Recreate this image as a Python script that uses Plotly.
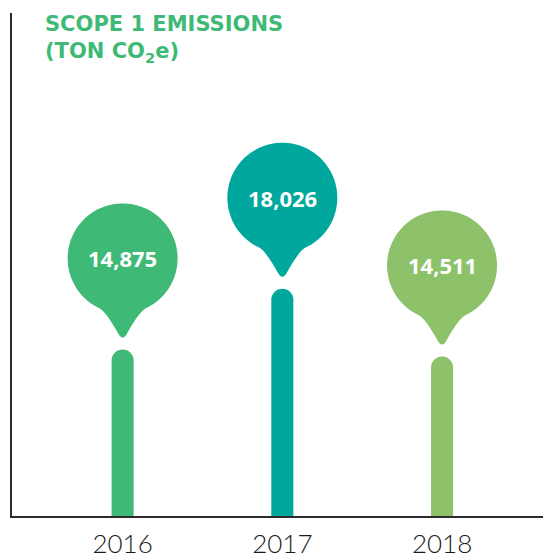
import numpy as np
import plotly.graph_objects as go

# Scope 1 emissions per year (ton CO2e)
years = [2016, 2017, 2018]
year_labels = ["2016", "2017", "2018"]
emissions = [14875, 18026, 14511]
colors = ["#3EBA76", "#00A79D", "#8DC26B"]

# Geometry of the value pin (pixels, relative to the top of each bar, y up)
PIN_R = 55
PIN_CY = 91


def pin_path(r=PIN_R, cy=PIN_CY):
    a = np.radians(np.linspace(-65, 245, 90))
    xs = r * np.cos(a)
    ys = cy + r * np.sin(a)
    parts = [f"M{xs[0]:.2f},{ys[0]:.2f}"]
    parts += [f"L{x:.2f},{y:.2f}" for x, y in zip(xs[1:], ys[1:])]
    # tapered tail down to a rounded tip
    parts.append(f"C-17.8,{cy-52.3} -9.8,{cy-65.6} -5,{cy-74}")
    parts.append(f"Q0,{cy-84} 5,{cy-74}")
    parts.append(f"C9.8,{cy-65.6} 17.8,{cy-52.3} {xs[0]:.2f},{ys[0]:.2f}")
    parts.append("Z")
    return " ".join(parts)


fig = go.Figure(
    go.Bar(
        x=years,
        y=emissions,
        width=0.138,
        marker=dict(color=colors, line=dict(width=0)),
        hoverinfo="skip",
    )
)

path = pin_path()
for yr, val, col in zip(years, emissions, colors):
    fig.add_shape(
        type="path",
        xref="x",
        yref="y",
        xsizemode="pixel",
        ysizemode="pixel",
        xanchor=yr,
        yanchor=val,
        path=path,
        fillcolor=col,
        line=dict(width=0),
        layer="above",
    )
    fig.add_annotation(
        x=yr,
        y=val,
        yshift=PIN_CY,
        text=f"{val:,}",
        showarrow=False,
        font=dict(family="Open Sans", size=22, color="white", weight=700),
    )

# Chart heading, top-left above the plot
fig.add_annotation(
    xref="paper",
    yref="paper",
    x=31 / 531,
    y=515 / 512,
    xanchor="left",
    yanchor="top",
    align="left",
    showarrow=False,
    text="SCOPE 1 EMISSIONS<br>(TON CO<sub>2</sub>e)",
    font=dict(family="DejaVu Sans", size=21, color="#3EBA76", weight=700),
)

fig.update_layout(
    width=543,
    height=559,
    margin=dict(l=12, r=0, t=13, b=34),
    paper_bgcolor="white",
    plot_bgcolor="white",
    showlegend=False,
    barcornerradius=11,
    xaxis=dict(
        range=[2015.3075, 2018.632],
        tickvals=years,
        ticktext=year_labels,
        showline=True,
        linecolor="#2b2b2b",
        linewidth=1.5,
        showgrid=False,
        zeroline=False,
        ticks="",
        ticklabelstandoff=4,
        tickfont=dict(family="Lato", size=26, color="#1a1a1a", weight=300),
    ),
    yaxis=dict(
        range=[6224, 32346],
        showline=True,
        linecolor="#2b2b2b",
        linewidth=1.5,
        showgrid=False,
        zeroline=False,
        showticklabels=False,
        ticks="",
    ),
)

fig.write_html("out.html")
